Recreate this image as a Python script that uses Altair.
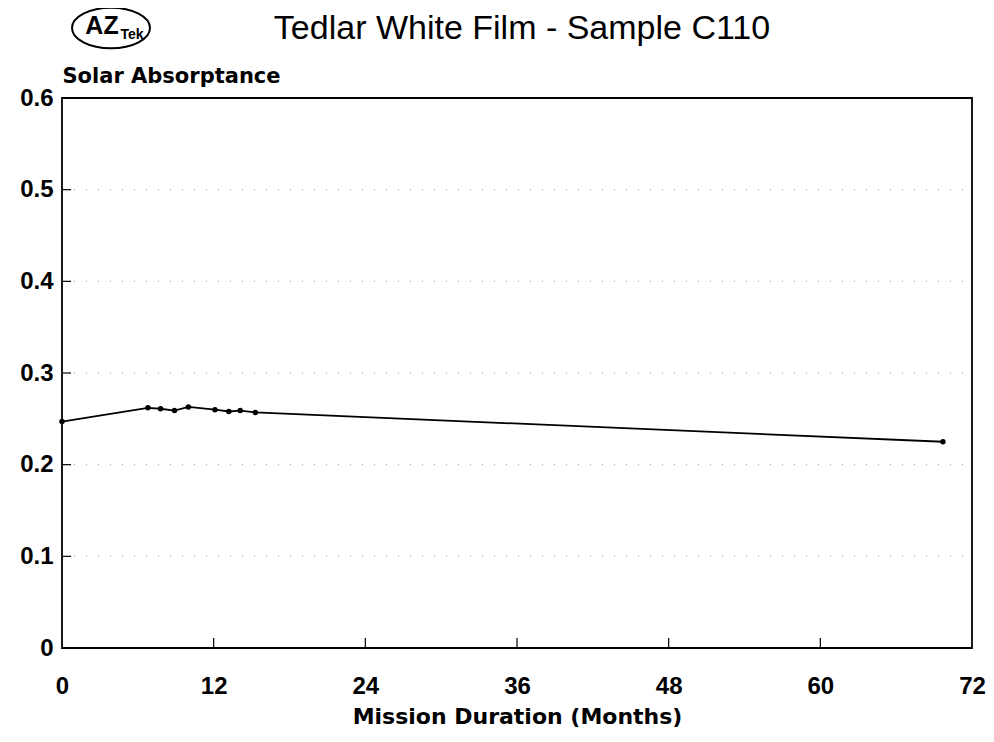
import altair as alt
import pandas as pd

months = [0, 6.8, 7.8, 8.9, 10.0, 12.1, 13.2, 14.1, 15.3, 69.7]
absorptance = [0.247, 0.262, 0.261, 0.259, 0.263, 0.260, 0.258, 0.259, 0.257, 0.225]
y_ticks = [0.1, 0.2, 0.3, 0.4, 0.5]
x_ticks = [12, 24, 36, 48, 60]
title_text = "Tedlar White Film - Sample C110"

df = pd.DataFrame({"months": months, "abs": absorptance})
grid = pd.DataFrame({"y": y_ticks})
xt = pd.DataFrame({"x": x_ticks})

FONT = "Liberation Sans"
WIDE = "DejaVu Sans"
W, H = 910, 550

xs = alt.Scale(domain=[0, 72], nice=False, zero=False)
ys = alt.Scale(domain=[0, 0.6], nice=False)

line = alt.Chart(df).mark_line(color="black", strokeWidth=1.8).encode(
    x=alt.X("months:Q", scale=xs, axis=alt.Axis(
        values=[0, 12, 24, 36, 48, 60, 72], title="Mission Duration (Months)",
        grid=False, ticks=False, domain=False, labelFontSize=24, labelFontWeight="bold",
        labelFont=FONT, labelColor="black", labelPadding=26,
        titleFont=WIDE, titleFontSize=22, titleFontWeight="bold", titleColor="black",
        titlePadding=8, labelFlush=False)),
    y=alt.Y("abs:Q", scale=ys, axis=alt.Axis(
        values=[0, 0.1, 0.2, 0.3, 0.4, 0.5, 0.6], format=".1~f",
        title="Solar Absorptance", titleAngle=0, titleAlign="left", titleBaseline="alphabetic",
        titleX=0, titleY=-16, titleFont=WIDE, titleFontSize=21, titleFontWeight="bold",
        titleColor="black",
        grid=False, ticks=False, domain=False, labelFontSize=24, labelFontWeight="bold",
        labelFont=FONT, labelColor="black", labelPadding=9, labelFlush=False)),
)
pts = alt.Chart(df).mark_point(filled=True, color="black", size=30, opacity=1).encode(
    x=alt.X("months:Q", scale=xs), y=alt.Y("abs:Q", scale=ys))

gridlines = alt.Chart(grid).mark_rule(color="#9a9a9a", strokeWidth=1, strokeDash=[1, 11]).encode(
    y=alt.Y("y:Q", scale=ys), x=alt.value(0), x2=alt.value(W))
yticks = alt.Chart(grid).mark_rule(color="black", strokeWidth=1.2).encode(
    y=alt.Y("y:Q", scale=ys), x=alt.value(0), x2=alt.value(9))
xticks = alt.Chart(xt).mark_rule(color="black", strokeWidth=1.2).encode(
    x=alt.X("x:Q", scale=xs), y=alt.value(H), y2=alt.value(H - 10))

logo_df = pd.DataFrame({"t": ["logo"]})
ellipse = alt.Chart(logo_df).mark_point(
    shape="M-1,0A1,0.52,0,1,1,1,0A1,0.52,0,1,1,-1,0Z", size=6084, filled=False,
    color="black", strokeWidth=2, opacity=1).encode(
    x=alt.value(49), y=alt.value(-70))
az = alt.Chart(logo_df).mark_text(text="AZ", font=FONT, fontSize=25, fontWeight="bold",
                                  color="black", align="center", baseline="middle").encode(
    x=alt.value(40), y=alt.value(-72))
tek = alt.Chart(logo_df).mark_text(text="Tek", font=FONT, fontSize=14, fontWeight="bold",
                                   color="black", align="center", baseline="middle").encode(
    x=alt.value(70), y=alt.value(-63))
title = alt.Chart(logo_df).mark_text(text=title_text, font=FONT, fontSize=34,
                                     color="black", align="center", baseline="alphabetic").encode(
    x=alt.value(460), y=alt.value(-59))

chart = alt.layer(gridlines, yticks, xticks, line, pts, ellipse, az, tek, title).properties(
    width=W, height=H,
    autosize=alt.AutoSizeParams(type="none"),
    padding={"left": 54, "top": 90, "right": 14, "bottom": 86},
).configure(background="white").configure_view(stroke="black", strokeWidth=1.8)

chart.save("out.html", embed_options={"renderer": "svg", "actions": False})
